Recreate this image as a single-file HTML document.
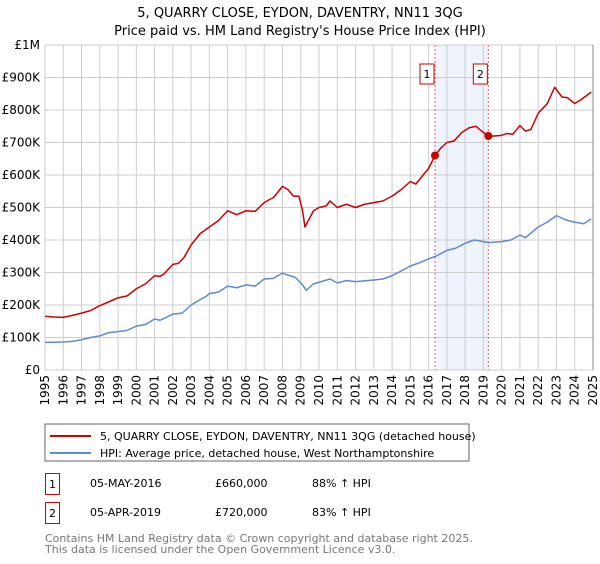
<!DOCTYPE html>
<html><head><meta charset="utf-8"><style>
body{margin:0;background:#fff;font-family:"DejaVu Sans","Liberation Sans",sans-serif}
svg text{font-family:"DejaVu Sans","Liberation Sans",sans-serif}
</style></head><body>
<svg id="c" width="600" height="560" xmlns="http://www.w3.org/2000/svg">
<text x="300" y="17" text-anchor="middle" font-size="13">5, QUARRY CLOSE, EYDON, DAVENTRY, NN11 3QG</text>
<text x="300" y="35" text-anchor="middle" font-size="13">Price paid vs. HM Land Registry's House Price Index (HPI)</text>
<g id="grid"></g><g id="axes"></g><g id="series"></g>
<rect x="45" y="424" width="424" height="37" fill="#fff" stroke="#666"/>
<line x1="50" y1="436" x2="91" y2="436" stroke="#cc0000" stroke-width="2"/>
<text x="100" y="440" font-size="11">5, QUARRY CLOSE, EYDON, DAVENTRY, NN11 3QG (detached house)</text>
<line x1="50" y1="453" x2="91" y2="453" stroke="#5b8bd0" stroke-width="2"/>
<text x="100" y="457" font-size="11">HPI: Average price, detached house, West Northamptonshire</text>
<g font-size="11">
<rect x="45.5" y="473.5" width="14" height="21" fill="#fff" stroke="#cc0000"/><text x="52.5" y="488" text-anchor="middle">1</text>
<text x="90" y="487">05-MAY-2016</text><text x="215" y="487">£660,000</text><text x="312" y="487">88% ↑ HPI</text></g>
<g font-size="11">
<rect x="45.5" y="502.5" width="14" height="21" fill="#fff" stroke="#cc0000"/><text x="52.5" y="517" text-anchor="middle">2</text>
<text x="90" y="516">05-APR-2019</text><text x="215" y="516">£720,000</text><text x="312" y="516">83% ↑ HPI</text></g>
<text x="45" y="542" font-size="11" fill="#777">Contains HM Land Registry data © Crown copyright and database right 2025.</text>
<text x="45" y="553" font-size="11" fill="#777">This data is licensed under the Open Government Licence v3.0.</text>
</svg>
<script>
const yTicks=[0,100000,200000,300000,400000,500000,600000,700000,800000,900000,1000000];
const yTickLabels=["£0","£100K","£200K","£300K","£400K","£500K","£600K","£700K","£800K","£900K","£1M"];
const xYears=[1995,1996,1997,1998,1999,2000,2001,2002,2003,2004,2005,2006,2007,2008,2009,2010,2011,2012,2013,2014,2015,2016,2017,2018,2019,2020,2021,2022,2023,2024,2025];
const propT=[1995,1995.5,1996,1996.5,1997,1997.5,1998,1998.5,1999,1999.5,2000,2000.5,2001,2001.3,2001.5,2002,2002.3,2002.6,2003,2003.5,2003.8,2004,2004.5,2005,2005.5,2006,2006.5,2007,2007.3,2007.5,2008,2008.3,2008.6,2008.9,2009.1,2009.23,2009.7,2010,2010.4,2010.6,2011,2011.5,2012,2012.5,2013,2013.5,2014,2014.5,2015,2015.3,2015.7,2016,2016.35,2016.7,2017,2017.4,2017.8,2018.2,2018.6,2018.9,2019.27,2019.6,2020,2020.3,2020.6,2021,2021.3,2021.6,2022,2022.5,2022.9,2023.3,2023.6,2024,2024.3,2024.9];
const propV=[165,163,162,168,175,183,198,210,222,228,250,265,290,288,295,325,328,345,385,420,432,440,460,490,478,490,488,515,525,530,565,555,535,535,490,440,490,500,505,520,500,510,500,510,515,520,535,555,580,572,600,620,660,685,700,705,730,745,750,735,720,720,722,728,725,752,735,740,790,820,870,840,838,820,830,855];
const hpiT=[1995,1996,1996.5,1997,1997.5,1998,1998.5,1999,1999.5,2000,2000.5,2001,2001.3,2002,2002.5,2003,2003.5,2003.8,2004,2004.5,2005,2005.5,2006,2006.5,2007,2007.5,2008,2008.3,2008.7,2009.1,2009.3,2009.7,2010,2010.6,2011,2011.5,2012,2013,2013.5,2014,2014.5,2015,2015.5,2016,2016.4,2017,2017.5,2018,2018.5,2019,2019.3,2020,2020.5,2021,2021.3,2022,2022.5,2023,2023.5,2024,2024.5,2024.9];
const hpiV=[85,86,88,93,100,105,115,118,122,135,140,157,153,172,175,200,217,226,235,240,258,253,262,258,280,282,298,292,285,262,245,265,270,280,268,275,272,277,280,290,305,320,330,342,350,368,375,390,400,395,392,395,400,415,407,440,455,475,462,455,450,465];
const saleT=[2016.35,2019.27];
const saleV=[660,720];
const saleLabels=["1","2"];
const NS="http://www.w3.org/2000/svg";
const X0=45,X1=593,Y0=370,Y1=45;
const xs=t=>X0+(t-1995)/30*(X1-X0);
const ys=v=>Y0-v/1000000*(Y0-Y1);
function mk(tag,attrs,parent){const e=document.createElementNS(NS,tag);for(const k in attrs)e.setAttribute(k,attrs[k]);parent.appendChild(e);return e;}
const grid=document.getElementById('grid'),axes=document.getElementById('axes'),ser=document.getElementById('series');
const sh=mk('rect',{x:xs(saleT[0]),y:Y1,width:xs(saleT[1])-xs(saleT[0]),height:Y0-Y1,fill:'#eef3fc'},grid);


yTicks.forEach((v,i)=>{
 const l=mk('line',{x1:X0,x2:X1,y1:ys(v),y2:ys(v),stroke:'#ccc'},grid);
 
 
 const t=mk('text',{x:X0-5,y:ys(v)+4,'text-anchor':'end','font-size':'12'},axes);
 t.textContent=yTickLabels[i];
 
 
});
xYears.forEach(yr=>{
 const l=mk('line',{x1:xs(yr),x2:xs(yr),y1:Y1,y2:Y0,stroke:'#ccc'},grid);
 
 
 const t=mk('text',{x:0,y:0,'text-anchor':'end','font-size':'12',transform:`translate(${xs(yr)+4},375) rotate(-90)`},axes);
 t.textContent=yr;
 
 
});
const edge=mk('line',{x1:X1,x2:X1,y1:Y1,y2:Y0,stroke:'#888'},grid);


saleT.forEach((t,i)=>{
 const l=mk('line',{x1:xs(t),x2:xs(t),y1:Y1,y2:Y0,stroke:'#e06666','stroke-dasharray':'2,2'},grid);
 
 
 const r=mk('rect',{x:xs(t)-15,y:64,width:14,height:20,fill:'#fff',stroke:'#cc0000'},axes);
 
 
 const tx=mk('text',{x:xs(t)-8,y:78,'text-anchor':'middle','font-size':'11'},axes);
 tx.textContent=saleLabels[i];
 
 
});
function line(T,V,color,name){
 const p=mk('polyline',{points:T.map((t,i)=>xs(t)+','+ys(V[i]*1000)).join(' '),fill:'none',stroke:color,'stroke-width':'1.5','stroke-linejoin':'round'},ser);
 
 
}
line(hpiT,hpiV,'#5b8bd0','hpi-line');
line(propT,propV,'#cc0000','property-line');
saleT.forEach((t,i)=>{
 const c=mk('circle',{cx:xs(t),cy:ys(saleV[i]*1000),r:4,fill:'#cc0000'},ser);
 
 
});
</script>
</body></html>
